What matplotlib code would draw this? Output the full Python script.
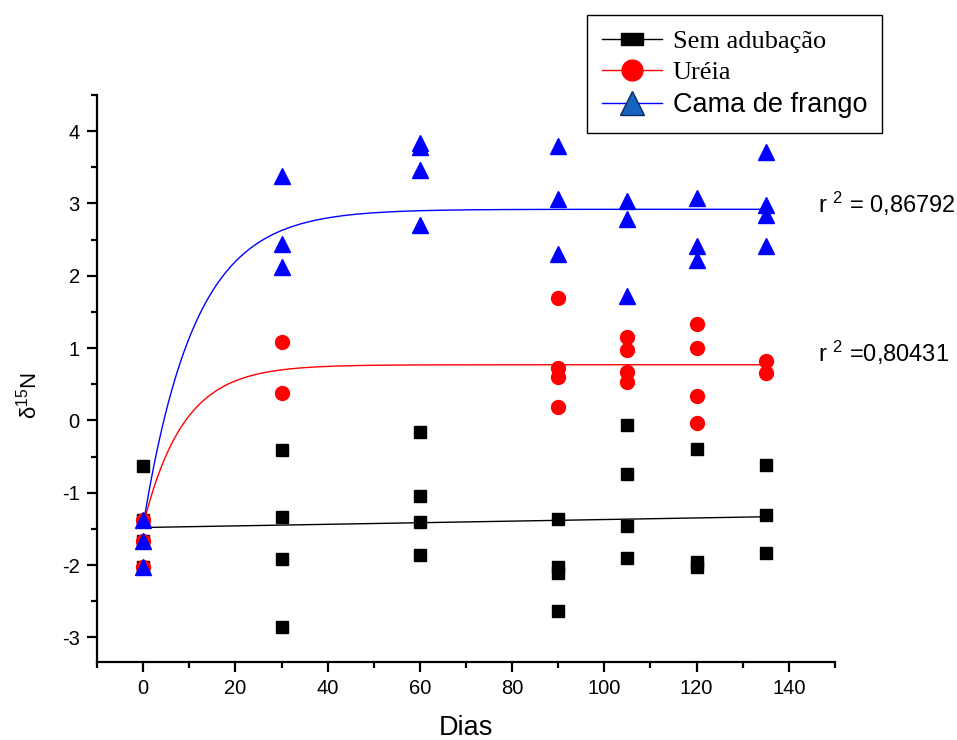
import numpy as np
import matplotlib
matplotlib.use("Agg")
import matplotlib.pyplot as plt
from matplotlib.lines import Line2D
from matplotlib.path import Path
from matplotlib.ticker import MultipleLocator

plt.rcParams["font.family"] = ["Liberation Sans", "DejaVu Sans"]
plt.rcParams["mathtext.fontset"] = "custom"
plt.rcParams["mathtext.rm"] = "Liberation Sans"
plt.rcParams["mathtext.it"] = "Liberation Sans:italic"
plt.rcParams["axes.unicode_minus"] = False

# dados
sem_x = [0, 0, 0, 0, 30, 30, 30, 30, 60, 60, 60, 60, 90, 90, 90, 90,
         105, 105, 105, 105, 120, 120, 120, 135, 135, 135]
sem_y = [-0.63, -1.37, -1.67, -2.02, -0.41, -1.33, -1.92, -2.85,
         -0.16, -1.05, -1.41, -1.86, -1.36, -2.02, -2.11, -2.63,
         -0.06, -0.74, -1.46, -1.90, -0.39, -1.96, -2.03,
         -0.61, -1.31, -1.83]

ureia_x = [0, 0, 0, 30, 30, 90, 90, 90, 90, 105, 105, 105, 105,
           120, 120, 120, 120, 135, 135]
ureia_y = [-1.37, -1.67, -2.02, 1.08, 0.38, 1.70, 0.73, 0.60, 0.18,
           1.16, 0.98, 0.67, 0.53, 1.34, 1.00, 0.34, -0.04, 0.82, 0.65]

cama_x = [0, 0, 0, 30, 30, 30, 60, 60, 60, 60, 90, 90, 90,
          105, 105, 105, 120, 120, 120, 135, 135, 135, 135]
cama_y = [-1.37, -1.67, -2.02, 3.38, 2.44, 2.12, 3.84, 3.78, 3.46, 2.70,
          3.79, 3.06, 2.30, 3.04, 2.78, 1.72, 3.07, 2.41, 2.22,
          3.71, 2.98, 2.84, 2.41]

# parâmetros dos ajustes
sem_fit = (-1.48, 0.0011)          # intercepto, inclinação
ureia_fit = (0.77, -1.45, 0.115)   # platô, valor inicial, taxa
cama_fit = (2.92, -1.45, 0.09)
r2_labels = ["r $^2$ = 0,86792", "r $^2$ =0,80431"]

fig = plt.figure(figsize=(9.57, 7.4), dpi=100)
ax = fig.add_axes([0.1014, 0.1054, 0.7711, 0.7662])

xx = np.linspace(0, 135, 400)
ax.plot(xx, sem_fit[0] + sem_fit[1] * xx, color="black", lw=1)
a, b, k = ureia_fit
ax.plot(xx, a - (a - b) * np.exp(-k * xx), color="red", lw=1)
a, b, k = cama_fit
ax.plot(xx, a - (a - b) * np.exp(-k * xx), color="blue", lw=1)

ax.plot(sem_x, sem_y, "s", color="black", ms=8.5, ls="none")
ax.plot(ureia_x, ureia_y, "o", color="red", ms=10, ls="none")
ax.plot(cama_x, cama_y, "^", color="blue", ms=11, ls="none")

ax.text(146.3, 2.99, r2_labels[0], fontsize=17, va="center", clip_on=False)
ax.text(146.3, 0.94, r2_labels[1], fontsize=17, va="center", clip_on=False)

ax.set_xlim(-10, 150)
ax.set_ylim(-3.34, 4.5)
ax.xaxis.set_major_locator(MultipleLocator(20))
ax.xaxis.set_minor_locator(MultipleLocator(10))
ax.yaxis.set_major_locator(MultipleLocator(1))
ax.yaxis.set_minor_locator(MultipleLocator(0.5))
ax.spines["top"].set_visible(False)
ax.spines["right"].set_visible(False)
for s in ("left", "bottom"):
    ax.spines[s].set_linewidth(1.6)
ax.tick_params(which="major", direction="out", length=7.5, width=1.6,
               labelsize=14.5, pad=5)
ax.tick_params(which="minor", direction="out", length=4.5, width=1.6)

ax.set_xlabel("Dias", fontsize=19.5, labelpad=12)
ax.set_ylabel("δ$^{15}$N", fontsize=16)
ax.yaxis.set_label_coords(-0.075, 0.47)

# marcador retangular da legenda
rect = Path([(-1, -0.55), (1, -0.55), (1, 0.55), (-1, 0.55), (-1, -0.55)],
            [Path.MOVETO, Path.LINETO, Path.LINETO, Path.LINETO, Path.CLOSEPOLY])
handles = [
    Line2D([], [], color="black", lw=1, marker=rect, ms=16, mfc="black"),
    Line2D([], [], color="red", lw=1, marker="o", ms=15, mfc="red", mec="red"),
    Line2D([], [], color="blue", lw=1, marker="^", ms=17, mfc="#1565C0",
           mec="#0D2A5C"),
]
leg = fig.legend(handles, ["Sem adubação", "Uréia", "Cama de frango"],
                 loc="upper left", bbox_to_anchor=(0.6134, 0.9797),
                 borderaxespad=0, fancybox=False, edgecolor="black",
                 framealpha=1, handlelength=2.3, handletextpad=0.4,
                 fontsize=19, borderpad=0.55, labelspacing=0.3)
leg.get_frame().set_linewidth(1)
for t in leg.get_texts()[:2]:
    t.set_fontfamily("Liberation Serif")
leg.get_texts()[2].set_fontsize(19.5)

fig.savefig("out.png", dpi=100)
